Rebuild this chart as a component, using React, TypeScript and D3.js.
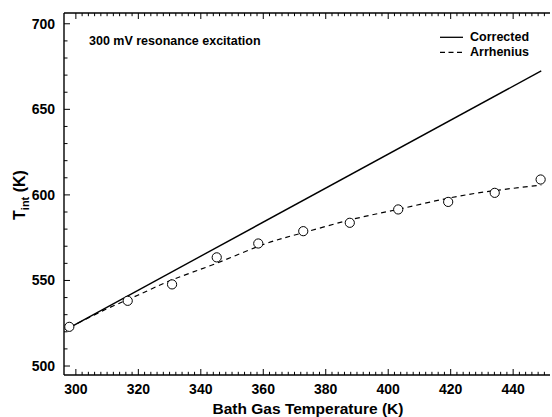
import React from "react";
import * as d3 from "d3";

const bathT = [297.9, 316.6, 330.8, 345.1, 358.4, 372.8, 387.7, 403.2, 419.2, 434.1, 448.8];
const tInt = [522.9, 538.1, 547.7, 563.5, 571.6, 578.8, 583.7, 591.5, 595.9, 601.2, 609.0];

const correctedT = [298, 449];
const correctedV = [522.5, 672.5];

const arrheniusT = [298, 310, 320, 331, 345, 360, 373, 388, 403, 419, 434, 449];
const arrheniusV = [522.5, 533.5, 541.5, 550.5, 560, 571, 578, 585.5, 591.5, 598, 602.5, 605.7];

const xTicks = [300, 320, 340, 360, 380, 400, 420, 440];
const yTicks = [500, 550, 600, 650, 700];
const xMinor = d3.range(300, 452, 2);
const yMinor = d3.range(500, 701, 10);

const W = 552, H = 417;
const L = 64, R = 550, T = 13, B = 375;
const FONT = "'Liberation Sans', Arial, Helvetica, sans-serif";

export default function App() {
  const x = d3.scaleLinear().domain([296.2, 451.8]).range([L, R]);
  const y = d3.scaleLinear().domain([494.75, 706.3]).range([B, T]);

  const corrLine = d3.line<number>().x((_, i) => x(correctedT[i])).y((d) => y(d));
  const arrLine = d3
    .line<number>()
    .x((_, i) => x(arrheniusT[i]))
    .y((d) => y(d))
    .curve(d3.curveNatural);

  return (
    <svg
      width={W}
      height={H}
      style={{ position: "absolute", left: 0, top: 0, background: "#fff" }}
      fontFamily={FONT}
    >
      <rect x={0} y={0} width={W} height={H} fill="#fff" />
      {/* axes lines */}
      <line x1={L} x2={L} y1={T} y2={B} stroke="#000" strokeWidth={1.4} />
      <line x1={L} x2={R} y1={B} y2={B} stroke="#000" strokeWidth={1.4} />
      <line x1={L} x2={R} y1={T} y2={T} stroke="#000" strokeWidth={1.4} />

      {/* x minor ticks bottom & top */}
      {xMinor.map((v) => {
        const major = xTicks.includes(v);
        const len = major ? 6 : 3.2;
        return (
          <g key={"xm" + v}>
            <line x1={x(v)} x2={x(v)} y1={B} y2={B - len} stroke="#000" strokeWidth={1} />
            <line x1={x(v)} x2={x(v)} y1={T} y2={T + len} stroke="#000" strokeWidth={1} />
          </g>
        );
      })}
      {/* y ticks */}
      {yMinor.map((v) => {
        const major = yTicks.includes(v);
        const len = major ? 6 : 3.5;
        return <line key={"ym" + v} x1={L} x2={L + len} y1={y(v)} y2={y(v)} stroke="#000" strokeWidth={1} />;
      })}

      {/* tick labels */}
      {xTicks.map((v) => (
        <text key={"xt" + v} x={x(v)} y={393.5} textAnchor="middle" fontSize={14} fontWeight="bold">
          {v}
        </text>
      ))}
      {yTicks.map((v) => (
        <text key={"yt" + v} x={55} y={y(v)} dy="0.35em" textAnchor="end" fontSize={14} fontWeight="bold">
          {v}
        </text>
      ))}

      {/* axis titles */}
      <text x={308} y={414} textAnchor="middle" fontSize={15.5} fontWeight="bold">
        Bath Gas Temperature (K)
      </text>
      <text transform="translate(25,195) rotate(-90)" textAnchor="middle" fontSize={16} fontWeight="bold">
        T<tspan fontSize={11} dy={4}>int</tspan>
        <tspan dy={-4}> (K)</tspan>
      </text>

      {/* annotation */}
      <text x={89} y={45} fontSize={12.5} fontWeight="bold">
        300 mV resonance excitation
      </text>

      {/* legend */}
      <line x1={440} x2={463} y1={37.3} y2={37.3} stroke="#000" strokeWidth={1.3} />
      <text x={470} y={41} fontSize={12.5} fontWeight="bold">Corrected</text>
      <line x1={440} x2={463} y1={52.3} y2={52.3} stroke="#000" strokeWidth={1.3} strokeDasharray="5,3.5" />
      <text x={470} y={56} fontSize={12.5} fontWeight="bold">Arrhenius</text>

      {/* lines */}
      <path d={corrLine(correctedV) || ""} fill="none" stroke="#000" strokeWidth={1.4} />
      <path d={arrLine(arrheniusV) || ""} fill="none" stroke="#000" strokeWidth={1.2} strokeDasharray="5,4" />

      {/* points */}
      {tInt.map((v, i) => (
        <circle key={"p" + i} cx={x(bathT[i])} cy={y(v)} r={4.6} fill="#fff" stroke="#000" strokeWidth={1} />
      ))}
    </svg>
  );
}
